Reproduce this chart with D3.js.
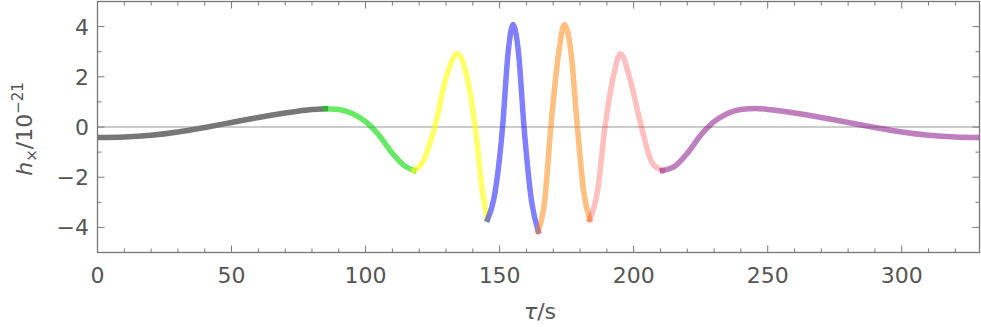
<!DOCTYPE html>
<html>
<head>
<meta charset="utf-8">
<script src="https://cdn.jsdelivr.net/npm/d3@7"></script>
<style>
  body { margin: 0; background: #fff; }
  svg text { font-family: "DejaVu Sans", sans-serif; fill: #555; }
</style>
</head>
<body>
<svg id="svg0" width="981" height="327"></svg>
<script>
// segments of the waveform (tau in s, h in 1e-21)
var grayT = [0, 10, 20, 30, 40, 50, 60, 70, 80, 85];
var grayH = [-0.42, -0.40, -0.33, -0.20, -0.02, 0.18, 0.38, 0.56, 0.70, 0.73];
var greenT = [85, 90, 95, 100, 105, 110, 114.4, 118];
var greenH = [0.73, 0.70, 0.54, 0.21, -0.33, -1.05, -1.54, -1.73];
var yellowT = [118, 121, 125.8, 130, 134.2, 137.8, 140.9, 143.5, 145.5];
var yellowH = [-1.73, -1.45, 0.0, 1.95, 2.92, 2.0, 0.0, -2.5, -3.68];
var blueT = [145.5, 148.3, 151.1, 153.2, 155.0, 157.0, 159.1, 161.9, 164.4];
var blueH = [-3.68, -2.6, 0.0, 3.0, 4.08, 3.0, 0.0, -2.95, -4.15];
var orangeT = [164.4, 166.8, 169.1, 172.1, 174.1, 176.7, 179.0, 181.4, 183.6];
var orangeH = [-4.15, -2.95, 0.0, 3.0, 4.08, 2.9, 0.0, -2.6, -3.68];
var pinkT = [183.6, 186.6, 189.3, 192.4, 195.1, 198.5, 202.9, 207, 210.7];
var pinkH = [-3.68, -2.5, 0.0, 2.0, 2.92, 1.95, 0.0, -1.45, -1.73];
var purpleT = [210.7, 215.6, 220, 225, 230, 235, 240, 245.5, 250, 260, 270, 280, 290, 300, 310, 320, 330];
var purpleH = [-1.73, -1.54, -1.05, -0.33, 0.21, 0.54, 0.70, 0.74, 0.70, 0.56, 0.38, 0.18, -0.02, -0.20, -0.33, -0.40, -0.42];

var xTicks = [0, 50, 100, 150, 200, 250, 300];
var yTicks = [-4, -2, 0, 2, 4];

var segments = [
  { t: grayT, h: grayH, color: "#777777", opacity: 1 },
  { t: greenT, h: greenH, color: "rgb(0,220,0)", opacity: 0.6 },
  { t: yellowT, h: yellowH, color: "rgb(255,255,0)", opacity: 0.6 },
  { t: blueT, h: blueH, color: "rgb(0,0,255)", opacity: 0.5 },
  { t: orangeT, h: orangeH, color: "rgb(255,128,0)", opacity: 0.5 },
  { t: pinkT, h: pinkH, color: "rgb(255,0,0)", opacity: 0.25 },
  { t: purpleT, h: purpleH, color: "rgb(128,0,128)", opacity: 0.5 }
];

var marginLeft = 97.5, marginRight = 979.5, marginTop = 1.5, marginBottom = 252.5;

var x = d3.scaleLinear().domain([0, 329]).range([marginLeft, marginRight]);
var y = d3.scaleLinear().domain([-5, 5]).range([marginBottom, marginTop]);

var svg = d3.select('#svg0');

// zero line
svg.append("line")
    .attr("x1", marginLeft).attr("x2", marginRight)
    .attr("y1", y(0)).attr("y2", y(0))
    .attr("stroke", "#999")
    .attr("stroke-width", 1);

var line = d3.line()
    .x(function (d) { return x(d[0]); })
    .y(function (d) { return y(d[1]); })
    .curve(d3.curveMonotoneX);

svg.append("clipPath").attr("id", "clip")
    .append("rect")
    .attr("x", marginLeft).attr("y", marginTop)
    .attr("width", marginRight - marginLeft).attr("height", marginBottom - marginTop);

svg.append("g")
    .attr("clip-path", "url(#clip)")
    .selectAll("path")
    .data(segments)
    .enter()
    .append("path")
    .attr("d", function (s) { return line(s.t.map(function (t, i) { return [t, s.h[i]]; })); })
    .attr("fill", "none")
    .attr("stroke", function (s) { return s.color; })
    .attr("stroke-opacity", function (s) { return s.opacity; })
    .attr("stroke-width", 5.5)
    .attr("stroke-linecap", "square")
    .attr("stroke-linejoin", "round");

// frame with inward ticks on all four sides
var tickColor = "#777";
var fr = svg.append("g");

function xAxisTicks(g, ypos, dir) {
    d3.range(0, 330, 10).forEach(function (v) {
        var len = (v % 50 === 0) ? 7 : 4;
        g.append("line")
            .attr("x1", x(v)).attr("x2", x(v))
            .attr("y1", ypos).attr("y2", ypos + dir * len)
            .attr("stroke", tickColor).attr("stroke-width", 1);
    });
}
function yAxisTicks(g, xpos, dir) {
    d3.range(-5, 6, 1).forEach(function (v) {
        var len = (v % 2 === 0) ? 7 : 4;
        g.append("line")
            .attr("x1", xpos).attr("x2", xpos + dir * len)
            .attr("y1", y(v)).attr("y2", y(v))
            .attr("stroke", tickColor).attr("stroke-width", 1);
    });
}
xAxisTicks(fr, marginBottom, -1);
xAxisTicks(fr, marginTop, 1);
yAxisTicks(fr, marginLeft, 1);
yAxisTicks(fr, marginRight, -1);

fr.append("rect")
    .attr("x", marginLeft).attr("y", marginTop)
    .attr("width", marginRight - marginLeft).attr("height", marginBottom - marginTop)
    .attr("fill", "none")
    .attr("stroke", tickColor)
    .attr("stroke-width", 1.3);

// tick labels
svg.selectAll(".xl")
    .data(xTicks)
    .enter()
    .append("text")
    .attr("class", "xl")
    .attr("x", function (d) { return x(d); })
    .attr("y", 283)
    .attr("text-anchor", "middle")
    .attr("font-size", 22)
    .text(function (d) { return d; });

svg.selectAll(".yl")
    .data(yTicks)
    .enter()
    .append("text")
    .attr("class", "yl")
    .attr("x", 89)
    .attr("y", function (d) { return y(d) + 8; })
    .attr("text-anchor", "end")
    .attr("font-size", 22)
    .text(function (d) { return d < 0 ? "\u2212" + Math.abs(d) : d; });

// axis labels
var xl = svg.append("text")
    .attr("x", 540)
    .attr("y", 319)
    .attr("text-anchor", "middle")
    .attr("font-size", 22);
xl.append("tspan").attr("font-style", "italic").text("\u03c4");
xl.append("tspan").text("/s");

var yl = svg.append("text")
    .attr("transform", "translate(32,129) rotate(-90)")
    .attr("text-anchor", "middle")
    .attr("font-size", 22);
yl.append("tspan").attr("font-style", "italic").text("h");
yl.append("tspan").attr("font-size", 15).attr("dy", 5).text("\u00d7");
yl.append("tspan").attr("dy", -5).text("/10");
yl.append("tspan").attr("font-size", 15).attr("dy", -9).text("\u221221");
</script>
</body>
</html>
